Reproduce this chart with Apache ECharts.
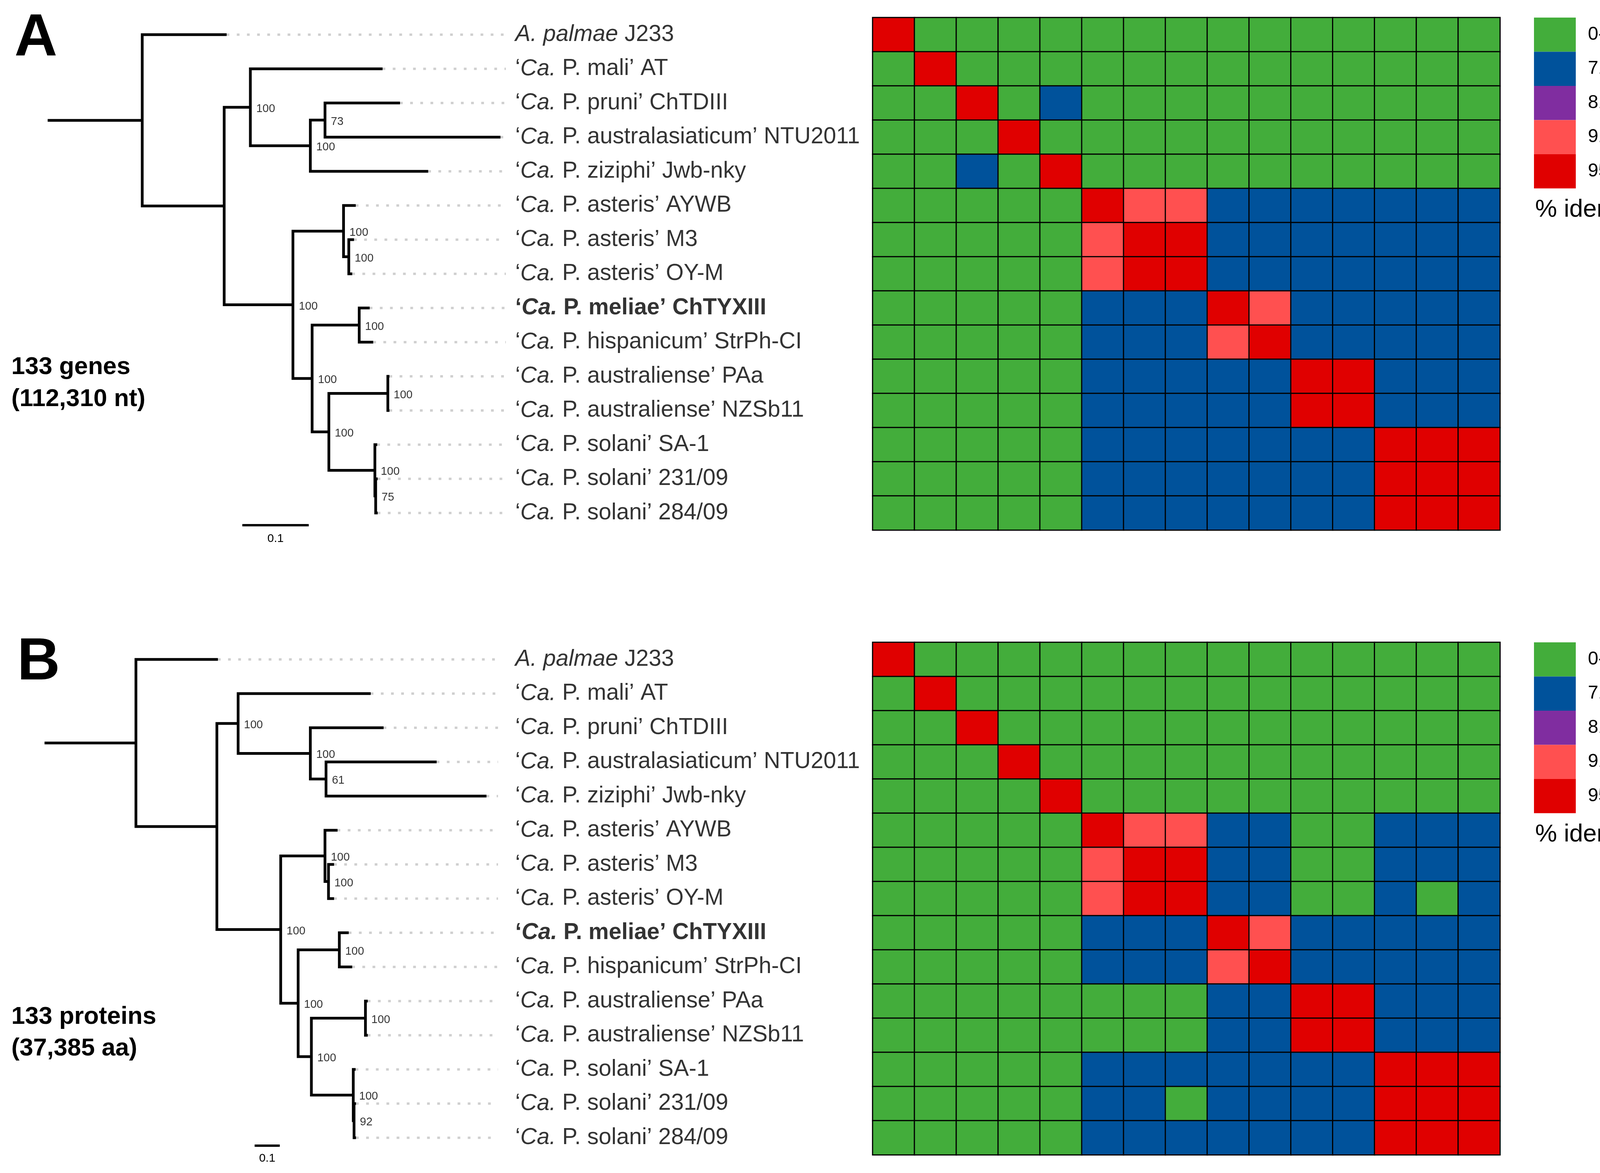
<!DOCTYPE html>
<html>
<head>
<meta charset="utf-8">
<script src="https://cdn.jsdelivr.net/npm/echarts@6/dist/echarts.min.js"></script>
<style>html,body{margin:0;padding:0;background:#fff}#c{width:4236px;height:3004px}</style>
</head>
<body>
<div id="c"></div>
<script>
// ---------------- DATA ----------------
const taxa = [
  "*A. palmae* J233",
  "‘*Ca.* P. mali’ AT",
  "‘*Ca.* P. pruni’ ChTDIII",
  "‘*Ca.* P. australasiaticum’ NTU2011",
  "‘*Ca.* P. ziziphi’ Jwb-nky",
  "‘*Ca.* P. asteris’ AYWB",
  "‘*Ca.* P. asteris’ M3",
  "‘*Ca.* P. asteris’ OY-M",
  "‘*Ca.* P. meliae’ ChTYXIII",
  "‘*Ca.* P. hispanicum’ StrPh-CI",
  "‘*Ca.* P. australiense’ PAa",
  "‘*Ca.* P. australiense’ NZSb11",
  "‘*Ca.* P. solani’ SA-1",
  "‘*Ca.* P. solani’ 231/09",
  "‘*Ca.* P. solani’ 284/09"
];
const boldTaxa = [8];
const identityClasses = ["0-70", "71-80", "81-90", "91-95", "95-100"];
const classColors = ["#43AD3B", "#00529B", "#802DA0", "#FF5050", "#E00000"];

// Trees (leaf = taxon index, internal label = bootstrap support, :branch length)
const treeA = "(0:0.1271,((1:0.1991,((2:0.1129,3:0.2642)73:0.0221,4:0.1775)100:0.0903)100:0.0394," +
  "((5:0.0184,(6:0.0079,7:0.0052)100:0.0079)100:0.0762,((8:0.0158,9:0.0211)100:0.0709," +
  "((10:0.0024,11:0.0024)100:0.0888,(12:0.0035,(13:0.003,14:0.003)75:0.0012)100:0.0693)100:0.0252)100:0.0289)100:0.1035):0.1234):0.1424;";
const treeB = "(0:0.3263,((1:0.5277,(2:0.2916,(3:0.4403,4:0.6387)61:0.0625)100:0.2874)100:0.0846," +
  "((5:0.0501,(6:0.0222,7:0.0222)100:0.014)100:0.1762,((8:0.0375,9:0.0513)100:0.1639," +
  "((10:0.0093,11:0.0093)100:0.2152,(12:0.0093,(13:0.0078,14:0.0078)92:0.0031)100:0.1667)100:0.0527)100:0.0694)100:0.2541):0.3222):0.3638;";

// identity class index per cell (0:0-70, 1:71-80, 2:81-90, 3:91-95, 4:95-100)
const identA = [
  [4,0,0,0,0,0,0,0,0,0,0,0,0,0,0],
  [0,4,0,0,0,0,0,0,0,0,0,0,0,0,0],
  [0,0,4,0,1,0,0,0,0,0,0,0,0,0,0],
  [0,0,0,4,0,0,0,0,0,0,0,0,0,0,0],
  [0,0,1,0,4,0,0,0,0,0,0,0,0,0,0],
  [0,0,0,0,0,4,3,3,1,1,1,1,1,1,1],
  [0,0,0,0,0,3,4,4,1,1,1,1,1,1,1],
  [0,0,0,0,0,3,4,4,1,1,1,1,1,1,1],
  [0,0,0,0,0,1,1,1,4,3,1,1,1,1,1],
  [0,0,0,0,0,1,1,1,3,4,1,1,1,1,1],
  [0,0,0,0,0,1,1,1,1,1,4,4,1,1,1],
  [0,0,0,0,0,1,1,1,1,1,4,4,1,1,1],
  [0,0,0,0,0,1,1,1,1,1,1,1,4,4,4],
  [0,0,0,0,0,1,1,1,1,1,1,1,4,4,4],
  [0,0,0,0,0,1,1,1,1,1,1,1,4,4,4]
];
const identB = [
  [4,0,0,0,0,0,0,0,0,0,0,0,0,0,0],
  [0,4,0,0,0,0,0,0,0,0,0,0,0,0,0],
  [0,0,4,0,0,0,0,0,0,0,0,0,0,0,0],
  [0,0,0,4,0,0,0,0,0,0,0,0,0,0,0],
  [0,0,0,0,4,0,0,0,0,0,0,0,0,0,0],
  [0,0,0,0,0,4,3,3,1,1,0,0,1,1,1],
  [0,0,0,0,0,3,4,4,1,1,0,0,1,1,1],
  [0,0,0,0,0,3,4,4,1,1,0,0,1,0,1],
  [0,0,0,0,0,1,1,1,4,3,1,1,1,1,1],
  [0,0,0,0,0,1,1,1,3,4,1,1,1,1,1],
  [0,0,0,0,0,0,0,0,1,1,4,4,1,1,1],
  [0,0,0,0,0,0,0,0,1,1,4,4,1,1,1],
  [0,0,0,0,0,1,1,1,1,1,1,1,4,4,4],
  [0,0,0,0,0,1,1,0,1,1,1,1,4,4,4],
  [0,0,0,0,0,1,1,1,1,1,1,1,4,4,4]
];
const scaleBarLength = 0.1;
const scaleBarText = "0.1";
const panelLetters = ["A", "B"];
const notesA = ["133 genes", "(112,310 nt)"];
const notesB = ["133 proteins", "(37,385 aa)"];
const legendTitle = "% identity";

// ---------------- HELPERS ----------------
const FONT = '"Liberation Sans", Arial, Helvetica, sans-serif';

function buildTree(newick) {
  const s = newick.replace(/\s+/g, '');
  let i = 0;
  function node() {
    const n = { children: [] };
    if (s[i] === '(') {
      i++;
      n.children.push(node());
      while (s[i] === ',') { i++; n.children.push(node()); }
      i++;
    }
    let label = '';
    while (i < s.length && !':,);'.includes(s[i])) label += s[i++];
    n.label = label;
    n.len = 0;
    if (s[i] === ':') {
      i++;
      let num = '';
      while (i < s.length && !',);'.includes(s[i])) num += s[i++];
      n.len = parseFloat(num);
    }
    return n;
  }
  const root = node();
  const elbows = [], tips = [], supports = [];
  (function walk(n, x) {
    n.x = x;
    if (!n.children.length) { n.y = +n.label; tips.push([n.x, n.y]); return; }
    n.children.forEach(c => walk(c, x + c.len));
    n.y = n.children.reduce((a, c) => a + c.y, 0) / n.children.length;
    const cs = n.children.slice().sort((a, b) => a.y - b.y);
    const f = cs[0], l = cs[cs.length - 1];
    elbows.push([[f.x, f.y], [n.x, f.y], [n.x, l.y], [l.x, l.y]]);
    cs.slice(1, -1).forEach(c => elbows.push([[n.x, c.y], [c.x, c.y]]));
    if (n.label) supports.push([n.x, n.y, n.label]);
  })(root, 0);
  elbows.push([[-root.len, root.y], [0, root.y]]);
  return { root, elbows, tips, supports };
}

function richLabel(idx) {
  const bold = boldTaxa.includes(idx);
  const parts = taxa[idx].split('*');
  let out = '';
  parts.forEach((p, k) => {
    if (!p) return;
    const st = (k % 2 === 1 ? 'i' : 'n') + (bold ? 'b' : '');
    out += '{' + st + '|' + p + '}';
  });
  return out;
}
const LBL = 58.5;
const rich = {
  n: { fontSize: LBL, fontFamily: FONT, color: '#000' },
  i: { fontSize: LBL, fontFamily: FONT, color: '#000', fontStyle: 'italic' },
  nb: { fontSize: LBL, fontFamily: FONT, color: '#000', fontWeight: 'bold' },
  ib: { fontSize: LBL, fontFamily: FONT, color: '#000', fontWeight: 'bold', fontStyle: 'italic' }
};

function polyItem(pts, api, style) {
  return { type: 'polyline', shape: { points: pts.map(p => api.coord(p)) }, style: style, silent: true };
}

function panelSeries(tree, ident, ti, hi, xMax, labelGap, bar) {
  const dots = tree.tips.map(t => [[t[0], t[1]], [xMax, t[1]]]);
  return [
    { type: 'custom', xAxisIndex: ti, yAxisIndex: ti, silent: true,
      data: dots.map(d => d[0]),
      renderItem: (p, api) => polyItem(dots[p.dataIndex], api,
        { stroke: '#cfcfcf', lineWidth: 6, lineDash: [7, 19], fill: null }) },
    { type: 'custom', xAxisIndex: ti, yAxisIndex: ti, silent: true,
      data: tree.elbows.map(e => e[0]),
      renderItem: (p, api) => polyItem(tree.elbows[p.dataIndex], api,
        { stroke: '#000', lineWidth: 7, fill: null, lineJoin: 'miter', lineCap: 'butt' }) },
    { type: 'scatter', xAxisIndex: ti, yAxisIndex: ti, silent: true, symbolSize: 0,
      data: tree.supports,
      label: { show: true, position: 'right', distance: 15, offset: [0, 4],
        formatter: p => p.value[2], fontSize: 29, fontFamily: FONT, color: '#000' } },
    { type: 'scatter', xAxisIndex: ti, yAxisIndex: ti, silent: true, symbolSize: 0,
      data: taxa.map((t, k) => [xMax, k]),
      label: { show: true, position: 'right', distance: labelGap,
        formatter: p => richLabel(p.dataIndex), rich: rich } },
    { type: 'custom', xAxisIndex: ti, yAxisIndex: ti, silent: true,
      data: [[bar.x0, bar.row]],
      renderItem: (p, api) => {
        const a = api.coord([bar.x0, bar.row]);
        const b = api.coord([bar.x0 + scaleBarLength, bar.row]);
        const t = api.coord([bar.x0 + scaleBarLength / 2, bar.textRow]);
        return { type: 'group', silent: true, children: [
          { type: 'line', shape: { x1: a[0], y1: a[1], x2: b[0], y2: b[1] },
            style: { stroke: '#000', lineWidth: 6 } },
          { type: 'text', x: t[0], y: t[1],
            style: { text: scaleBarText, fontSize: 30, fontFamily: FONT, fill: '#000',
              textAlign: 'center', textVerticalAlign: 'middle' } }
        ] };
      } },
    { type: 'heatmap', xAxisIndex: hi, yAxisIndex: hi,
      data: ident.flatMap((row, i) => row.map((v, j) => [j, i, v])),
      itemStyle: { borderColor: '#000', borderWidth: 3 },
      emphasis: { disabled: true } }
  ];
}

const tA = buildTree(treeA);
const tB = buildTree(treeB);
const idx15 = taxa.map((t, k) => k);

const ROWH = 87.5;
const topA = 45, topB = 1645;
const grids = [
  { left: 122, top: topA, width: 1173, height: 15 * ROWH },
  { left: 2234, top: topA, width: 1606, height: 15 * ROWH },
  { left: 114, top: topB, width: 1161, height: 15 * ROWH },
  { left: 2234, top: topB, width: 1606, height: 15 * ROWH }
];
const xMaxA = 0.5475, xMaxB = 1.4414;
const hidden = { show: false };
const treeX = (g, min, max) => ({ gridIndex: g, type: 'value', min: min, max: max, show: false, splitLine: hidden });
const treeY = (g) => ({ gridIndex: g, type: 'value', min: -0.5, max: 14.5, inverse: true, show: false, splitLine: hidden });
const heatX = (g) => ({ gridIndex: g, type: 'category', data: idx15, show: false });
const heatY = (g) => ({ gridIndex: g, type: 'category', data: idx15, inverse: true, show: false });

const series = [].concat(
  panelSeries(tA, identA, 0, 1, xMaxA, 24, { x0: 0.1507, row: 14.357, textRow: 14.757 }),
  panelSeries(tB, identB, 2, 3, xMaxB, 44, { x0: 0.4725, row: 14.231, textRow: 14.609 })
);

const vm = (si, top) => ({
  type: 'piecewise', seriesIndex: si, dimension: 2, orient: 'vertical', inverse: true,
  left: 3927, top: top, itemWidth: 107, itemHeight: ROWH, itemGap: 0, itemSymbol: 'rect',
  textGap: 31, padding: 0, align: 'left', hoverLink: false, selectedMode: false,
  textStyle: { fontSize: 48, fontFamily: FONT, color: '#000' },
  pieces: identityClasses.map((l, k) => ({ value: k, label: l, color: classColors[k] }))
});

const txt = (text, x, y, font) => ({ type: 'text', x: x, y: y, silent: true,
  style: { text: text, font: font, fill: '#000', textVerticalAlign: 'middle' } });

const option = {
  animation: false,
  backgroundColor: '#fff',
  grid: grids.map(g => Object.assign({ show: false }, g)),
  xAxis: [treeX(0, -tA.root.len, xMaxA), heatX(1), treeX(2, -tB.root.len, xMaxB), heatX(3)],
  yAxis: [treeY(0), heatY(1), treeY(2), heatY(3)],
  visualMap: [vm(5, topA), vm(11, topB)],
  series: series,
  graphic: [
    txt(panelLetters[0], 37, 100, 'bold 152px ' + FONT),
    txt(panelLetters[1], 44, 1698, 'bold 152px ' + FONT),
    txt(notesA[0], 29, 941, 'bold 63px ' + FONT),
    txt(notesA[1], 29, 1023, 'bold 63px ' + FONT),
    txt(notesB[0], 29, 2605, 'bold 63px ' + FONT),
    txt(notesB[1], 29, 2686, 'bold 63px ' + FONT),
    txt(legendTitle, 3930, 538, '63px ' + FONT),
    txt(legendTitle, 3930, 2138, '63px ' + FONT)
  ]
};

const chart = echarts.init(document.getElementById('c'), null, { renderer: 'canvas' });
chart.setOption(option);
</script>
</body>
</html>
